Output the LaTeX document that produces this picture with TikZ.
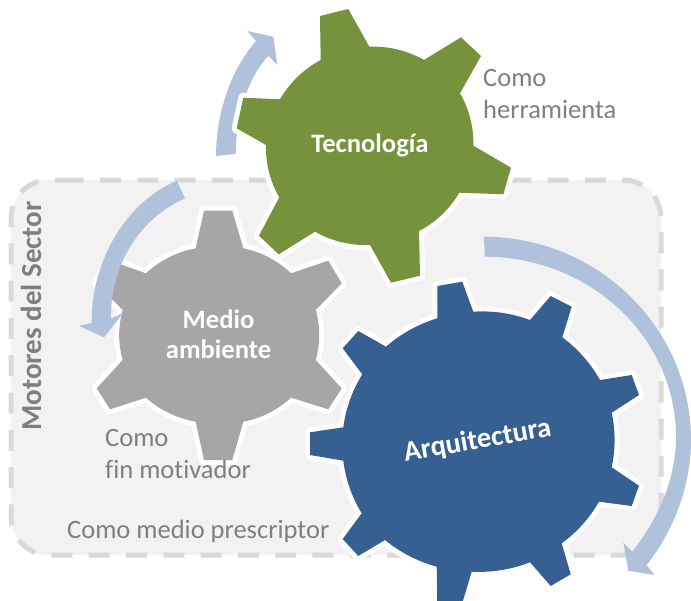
\documentclass[tikz,border=0pt]{standalone}
\usepackage{fontspec}
\setmainfont[Ligatures=NoCommon]{Carlito}
\definecolor{gearGreen}{HTML}{76923C}
\definecolor{gearGray}{HTML}{A6A6A6}
\definecolor{gearBlue}{HTML}{366092}
\definecolor{flowBlue}{HTML}{B0C1DC}
\definecolor{panelFill}{HTML}{F2F2F2}
\definecolor{panelLine}{HTML}{D9D9D9}
\definecolor{noteGray}{HTML}{7F7F7F}
\tikzset{
  gearshape/.style={draw=none,preaction={draw=white,line width=10pt,line join=round}},
  ga/.style={bend left=16,looseness=0.87},
  gb/.style={bend left=12,looseness=0.87},
  flow/.style={fill=flowBlue,draw=none},
  gearlabel/.style={text=white,font=\bfseries\fontsize{26.6}{30}\selectfont,align=center,inner sep=0pt},
  note/.style={text=noteGray,font=\fontsize{26.5}{31.5}\selectfont,align=left,inner sep=0pt,anchor=west}
}
\begin{document}
\begin{tikzpicture}[x=1pt,y=-1pt]
\useasboundingbox (0,0) rectangle (691,600);
\clip (0,0) rectangle (691,600);
% panel
\fill[panelFill,rounded corners=38pt] (11,180) rectangle (661,555);
\draw[draw=panelLine,line width=5pt,rounded corners=38pt,dash pattern=on 21pt off 16.3pt]
  (62.7,180) -- (661,180) -- (661,555) -- (11,555) -- (11,180) -- (62.7,180);
\node[rotate=90,text=noteGray,font=\bfseries\fontsize{29}{34}\selectfont,inner sep=0pt] (sector) at (31,316) {Motores del Sector};
% top arrow (under the green gear)
\path[flow] (216,156) .. controls (216,112) and (232,68) .. (256,41)
  -- (247.3,31) -- (273.3,36.7) -- (277.3,65) -- (268.3,56)
  .. controls (250,75) and (236,112) .. (235.7,154) -- cycle;
% green gear
\path[gearshape,fill=gearGreen]
  (320.7,60) -- (320,16) -- (348.3,9) -- (369.3,46.7)
  to[ga] (424,60) -- (461,37.3) -- (481,56) -- (460,93.3)
  to[ga] (473.3,145.7) -- (511,167.7) -- (503.3,194.3) -- (459.3,192.7)
  to[ga] (419,231) -- (420,275.7) -- (391,282.7) -- (370,245)
  to[ga] (315,231.7) -- (278.7,254.3) -- (259,235.7) -- (279.3,197.3)
  to[ga] (266,145) -- (236.7,128.3) -- (243.3,97.7) -- (280,99.3)
  to[ga] cycle;
\node[gearlabel] (tec) at (370,145) {Tecnología};
% gray gear
\path[gearshape,fill=gearGray]
  (195.7,248.3) -- (204,210.7) -- (232.3,210.7) -- (243.3,248.3)
  to[ga] (291,273.3) -- (328.3,260.7) -- (341.7,283.3) -- (315.7,310)
  to[ga] (315.7,360) -- (341.7,388.3) -- (328.3,409.3) -- (291,397.7)
  to[ga] (243.3,421.7) -- (232.3,460) -- (204,460) -- (195.7,421.7)
  to[ga] (146,397.7) -- (110,409.3) -- (96.7,388.3) -- (122.7,360)
  to[ga] (122.7,310) -- (96.7,283.3) -- (110,260.7) -- (146,273.3)
  to[ga] cycle;
\node[gearlabel] (medio) at (218.5,334) {Medio\\ambiente};
% left arrow
\path[flow] (176.7,180.7) .. controls (125,203) and (91,262) .. (91.7,323)
  -- (79.3,326) -- (104,337.3) -- (123.3,312.7) -- (111,319)
  .. controls (110,265) and (140,218) .. (185,198.3) -- cycle;
% blue gear
\path[gearshape,fill=gearBlue]
  (437.3,318.3) -- (437.3,286) -- (462.3,281.7) -- (473.3,311.7)
  to[gb] (530,320) -- (550.7,296) -- (571.7,306.7) -- (562.3,337.3)
  to[gb] (600,380) -- (631.7,375) -- (639,395) -- (611.7,412.7)
  to[gb] (611.7,467.3) -- (639,485.7) -- (631.7,506) -- (599,501.7)
  to[gb] (561.7,543.3) -- (570.7,574.3) -- (550.7,586) -- (530,562.3)
  to[gb] (471.7,571.7) -- (462.3,603) -- (437.3,605) -- (436.7,566.7)
  to[gb] (385,540) -- (358.3,556) -- (342.7,539) -- (361.7,513.3)
  to[gb] (343.3,460.7) -- (310,455) -- (310,432.3) -- (343.3,427.3)
  to[gb] (362.3,374.3) -- (342.7,348.3) -- (358.3,331) -- (386,346.7)
  to[gb] cycle;
\node[gearlabel,rotate=10,font=\bfseries\fontsize{28.5}{30}\selectfont] (arq) at (477.5,441) {Arquitectura};
% right arrow
\path[flow] (484,236.7) .. controls (598,237) and (691,328) .. (691,440)
  .. controls (691,485) and (674.4,529.5) .. (646.7,565)
  -- (654.3,575) -- (628.3,570.7) -- (623.3,542.7) -- (632.3,551.7)
  .. controls (658.2,518.7) and (676,479) .. (676,437)
  .. controls (676,337.6) and (590,256.7) .. (484.7,256.7) -- cycle;
% notes
\node[note] (herr) at (483,94) {Como\\herramienta};
\node[note] (fin) at (105,454) {Como\\fin motivador};
\node[note] (pres) at (67,531) {Como medio prescriptor};
\end{tikzpicture}
\end{document}
